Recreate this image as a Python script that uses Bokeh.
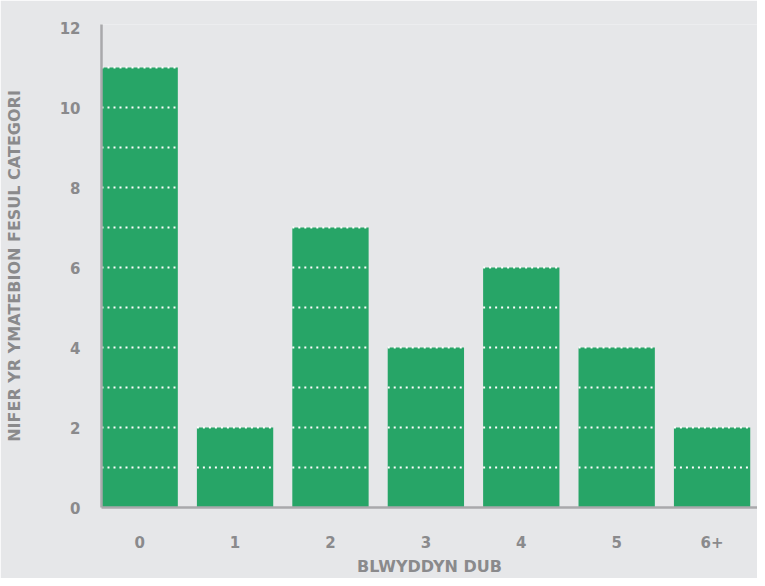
from bokeh.plotting import figure
from bokeh.models import FixedTicker, Range1d
from bokeh.embed import file_html
from bokeh.resources import INLINE

categories = ["0", "1", "2", "3", "4", "5", "6+"]
counts = [11, 2, 7, 4, 6, 4, 2]
y_ticks = [0, 2, 4, 6, 8, 10, 12]
x_title = "BLWYDDYN DUB"
y_title = "NIFER YR YMATEBION FESUL CATEGORI"

BG = "#e6e7e9"
GREEN = "#27a567"
GRAY = "#8a8a8c"
FONT = "DejaVu Sans"

xs = list(range(len(categories)))
bar_w = 0.8

p = figure(width=757, height=578, output_backend="svg", toolbar_location=None,
           x_range=Range1d(-0.4, 6.476), y_range=Range1d(0, 12.075),
           min_border_left=101, min_border_top=24, min_border_bottom=71, min_border_right=0)
p.background_fill_color = BG
p.border_fill_color = BG
p.outline_line_color = None
p.grid.visible = False

p.vbar(x=xs, top=counts, width=bar_w, fill_color=GREEN, line_color=None)

# dotted white unit lines within bars
sx0, sx1, sy = [], [], []
for i, v in zip(xs, counts):
    for k in range(1, v + 1):
        sx0.append(i - bar_w / 2)
        sx1.append(i + bar_w / 2)
        sy.append(k)
p.segment(x0=sx0, x1=sx1, y0=sy, y1=sy, line_color="white", line_width=2, line_dash="dotted")

p.xaxis.ticker = FixedTicker(ticks=xs)
p.xaxis.major_label_overrides = {i: c for i, c in zip(xs, categories)}
p.yaxis.ticker = FixedTicker(ticks=y_ticks)

for ax in (p.xaxis, p.yaxis):
    ax.axis_line_color = "#a9a9ab"
    ax.axis_line_width = 2.5
    ax.major_tick_line_color = None
    ax.minor_tick_line_color = None
    ax.major_label_text_color = GRAY
    ax.major_label_text_font = FONT
    ax.major_label_text_font_style = "bold"
    ax.major_label_text_font_size = "15px"
    ax.axis_label_text_color = GRAY
    ax.axis_label_text_font = FONT
    ax.axis_label_text_font_style = "bold"
    ax.axis_label_text_font_size = "16px"

p.xaxis.axis_label = x_title
p.yaxis.axis_label = y_title
p.xaxis.major_label_standoff = 22
p.xaxis.axis_label_standoff = 6
p.yaxis.major_label_standoff = 15
p.yaxis.axis_label_standoff = 33

open("out.html", "w").write(file_html(p, INLINE))
